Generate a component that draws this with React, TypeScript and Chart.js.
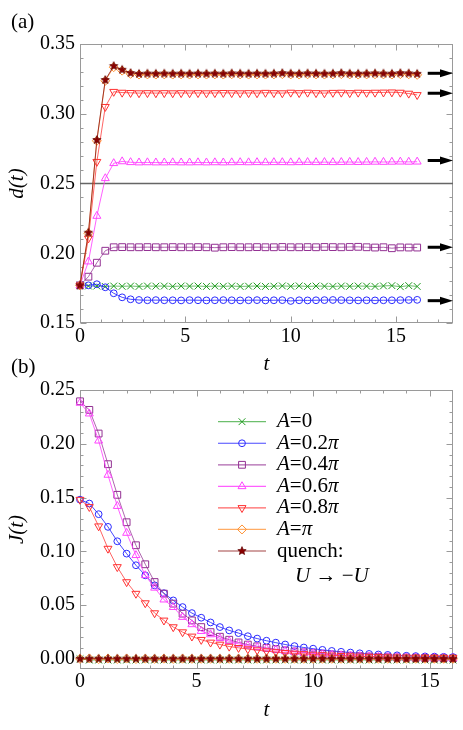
import React, { useEffect, useRef } from 'react';
import { Chart, registerables } from 'chart.js';
import { drawPoint } from 'chart.js/helpers';

Chart.register(...registerables);

const FONT = '"Liberation Serif", "Times New Roman", serif';

// time grid (both panels)
const T = [0, 0.4, 0.8, 1.2, 1.6, 2, 2.4, 2.8, 3.2, 3.6, 4, 4.4, 4.8, 5.2, 5.6, 6, 6.4, 6.8, 7.2, 7.6,
  8, 8.4, 8.8, 9.2, 9.6, 10, 10.4, 10.8, 11.2, 11.6, 12, 12.4, 12.8, 13.2, 13.6, 14, 14.4, 14.8, 15.2, 15.6, 16];

// ---------- panel (a): d(t) ----------
const dA0 = [0.177, 0.1765, 0.1765, 0.1762, 0.1765, 0.1763, 0.1765, 0.1762, 0.1765, 0.1764,
  0.1765, 0.1762, 0.1765, 0.1764, 0.1765, 0.1762, 0.1765, 0.1763, 0.1765, 0.1762,
  0.1764, 0.1765, 0.1762, 0.1764, 0.1766, 0.1763, 0.1766, 0.1762, 0.1765, 0.1764,
  0.1762, 0.1765, 0.1763, 0.1765, 0.1764, 0.1762, 0.1766, 0.1768, 0.176, 0.1768, 0.1762];
const dA02 = [0.177, 0.177, 0.1778, 0.1756, 0.1713, 0.1684, 0.167, 0.1665, 0.1663, 0.1664,
  0.1663, 0.1663, 0.1662, 0.1664, 0.1663, 0.1662, 0.1663, 0.1664, 0.1663, 0.1662,
  0.1663, 0.1664, 0.1662, 0.1663, 0.1664, 0.1658, 0.1663, 0.1662, 0.1663, 0.1664,
  0.1665, 0.1664, 0.1663, 0.1662, 0.1663, 0.1662, 0.1663, 0.1663, 0.1664, 0.1665, 0.1666];
const dA04 = [0.177, 0.1832, 0.1932, 0.2018, 0.2043, 0.2044, 0.2043, 0.2043, 0.2044, 0.2043,
  0.2043, 0.2044, 0.2043, 0.2043, 0.2044, 0.2043, 0.204, 0.2043, 0.2044, 0.2043,
  0.2043, 0.2044, 0.2043, 0.2043, 0.2045, 0.2043, 0.2043, 0.2044, 0.2043, 0.2045,
  0.2044, 0.2043, 0.2045, 0.2046, 0.2043, 0.2041, 0.2043, 0.2036, 0.2042, 0.2041, 0.2041];
const dA06 = [0.177, 0.194, 0.2267, 0.2537, 0.2645, 0.2658, 0.2652, 0.265, 0.2651, 0.265,
  0.265, 0.2651, 0.265, 0.265, 0.2651, 0.265, 0.2651, 0.265, 0.2651, 0.2652,
  0.2651, 0.2652, 0.2651, 0.2652, 0.2652, 0.2651, 0.2652, 0.2653, 0.2652, 0.2653,
  0.2652, 0.2653, 0.2654, 0.2653, 0.2654, 0.2655, 0.2654, 0.2655, 0.2656, 0.2655, 0.2656];
const dA08 = [0.177, 0.2107, 0.2656, 0.305, 0.3158, 0.3152, 0.315, 0.3148, 0.3149, 0.3148,
  0.3149, 0.3148, 0.3149, 0.3148, 0.3149, 0.3148, 0.3149, 0.315, 0.3149, 0.3148,
  0.3149, 0.3148, 0.3151, 0.3149, 0.3148, 0.3152, 0.3149, 0.3152, 0.3149, 0.3148,
  0.3151, 0.3152, 0.3149, 0.3152, 0.3151, 0.3152, 0.3153, 0.3154, 0.3152, 0.3145, 0.3135];
const dPi = [0.177, 0.2143, 0.2806, 0.3236, 0.3334, 0.3309, 0.3286, 0.3281, 0.3282, 0.3281,
  0.3282, 0.3281, 0.3282, 0.3281, 0.3282, 0.3281, 0.3282, 0.3281, 0.3283, 0.3282,
  0.3281, 0.3282, 0.3281, 0.3282, 0.3284, 0.3282, 0.3281, 0.3283, 0.3282, 0.3281,
  0.3282, 0.3284, 0.3282, 0.3281, 0.3282, 0.3283, 0.3282, 0.3281, 0.3284, 0.3283, 0.3279];
const dQ = [0.177, 0.2147, 0.2812, 0.3242, 0.3342, 0.3315, 0.3292, 0.3286, 0.3288, 0.3287,
  0.3288, 0.3287, 0.3288, 0.3287, 0.3288, 0.3287, 0.3288, 0.3287, 0.3289, 0.3288,
  0.3287, 0.3288, 0.3287, 0.3288, 0.3291, 0.3288, 0.3287, 0.3289, 0.3288, 0.3287,
  0.3288, 0.3291, 0.3288, 0.3287, 0.3288, 0.3289, 0.3288, 0.3287, 0.3291, 0.3289, 0.3286];
const halfFillingLevel = 0.25;
const arrowLevels = [0.329, 0.3147, 0.2665, 0.2043, 0.166];
const arrowFrom = 16.5;
const arrowTo = 17.7;

// ---------- panel (b): J(t) ----------
const jA0 = [0, -0.0012, -0.0012, -0.0012, -0.0012, -0.0012, -0.0012, -0.0012, -0.0012, -0.0012,
  -0.0012, -0.0012, -0.0012, -0.0012, -0.0012, -0.0012, -0.0012, -0.0012, -0.0012, -0.0012,
  -0.0012, -0.0012, -0.0012, -0.0012, -0.0012, -0.0012, -0.0012, -0.0012, -0.0012, -0.0012,
  -0.0012, -0.0012, -0.0012, -0.0012, -0.0012, -0.0012, -0.0012, -0.0012, -0.0012, -0.0012, -0.0012];
const jA02 = [0.148, 0.1444, 0.1345, 0.1227, 0.1093, 0.0978, 0.087, 0.0776, 0.0683, 0.061,
  0.0543, 0.0481, 0.0425, 0.0382, 0.0338, 0.0295, 0.0264, 0.0239, 0.021, 0.0188,
  0.0168, 0.015, 0.0133, 0.0118, 0.0105, 0.0094, 0.0083, 0.0073, 0.0065, 0.0058,
  0.0051, 0.0045, 0.004, 0.0036, 0.0032, 0.0028, 0.0025, 0.0022, 0.002, 0.0018, 0.0016];
const jA04 = [0.2395, 0.2315, 0.2095, 0.181, 0.1525, 0.127, 0.1056, 0.0879, 0.0714, 0.0606,
  0.0513, 0.042, 0.0357, 0.0295, 0.0248, 0.0205, 0.0177, 0.0152, 0.0132, 0.0116,
  0.0101, 0.0089, 0.0078, 0.0068, 0.006, 0.0052, 0.0045, 0.0039, 0.0034, 0.0029,
  0.0025, 0.0021, 0.0018, 0.0015, 0.0013, 0.0011, 0.0009, 0.0008, 0.0007, 0.0006, 0.0005];
const jA06 = [0.238, 0.228, 0.2028, 0.171, 0.142, 0.117, 0.0963, 0.0776, 0.066, 0.055,
  0.048, 0.0388, 0.032, 0.0257, 0.0226, 0.019, 0.0163, 0.014, 0.0122, 0.0107,
  0.0094, 0.0083, 0.0073, 0.0064, 0.0056, 0.0049, 0.0043, 0.0037, 0.0032, 0.0028,
  0.0024, 0.002, 0.0017, 0.0015, 0.0013, 0.0011, 0.0009, 0.0008, 0.0007, 0.0006, 0.0005];
const jA08 = [0.148, 0.1413, 0.1233, 0.1025, 0.0854, 0.0714, 0.0606, 0.0518, 0.0425, 0.0357,
  0.0295, 0.0248, 0.0208, 0.0177, 0.0152, 0.0133, 0.0114, 0.0102, 0.009, 0.008,
  0.0071, 0.0063, 0.0056, 0.005, 0.0045, 0.004, 0.0036, 0.0032, 0.0028, 0.0025,
  0.0022, 0.002, 0.0018, 0.0016, 0.0014, 0.0013, 0.0012, 0.0011, 0.001, 0.0009, 0.0008];
const jPi = [0, 0.0003, -0.0003, 0.0002, -0.0002, 0.0002, -0.0002, 0.0001, -0.0001, 0.0001,
  -0.0001, 0.0001, 0, 0, 0, 0, 0, 0, 0, 0,
  0, 0, 0, 0, 0, 0, 0, 0, 0, 0,
  0, 0, 0, 0, 0, 0, 0, 0, 0, 0, 0];
const jQ = [0, 0, 0, 0, 0, 0, 0, 0, 0, 0,
  0, 0, 0, 0, 0, 0, 0, 0, 0, 0,
  0, 0, 0, 0, 0, 0, 0, 0, 0, 0,
  0, 0, 0, 0, 0, 0, 0, 0, 0, 0, 0];

// ticks
const xTicksA = [0, 5, 10, 15];
const xMinorA = [1, 2, 3, 4, 6, 7, 8, 9, 11, 12, 13, 14, 16, 17];
const yTicksA = [0.15, 0.2, 0.25, 0.3, 0.35];
const yMinorA = [0.16, 0.17, 0.18, 0.19, 0.21, 0.22, 0.23, 0.24, 0.26, 0.27, 0.28, 0.29, 0.31, 0.32, 0.33, 0.34];
const xTicksB = [0, 5, 10, 15];
const xMinorB = [1, 2, 3, 4, 6, 7, 8, 9, 11, 12, 13, 14];
const yTicksB = [0, 0.05, 0.1, 0.15, 0.2, 0.25];
const yMinorB = [0.01, 0.02, 0.03, 0.04, 0.06, 0.07, 0.08, 0.09, 0.11, 0.12, 0.13, 0.14,
  0.16, 0.17, 0.18, 0.19, 0.21, 0.22, 0.23, 0.24];

// legend text: [text, italic?]
const legendLabels: [string, boolean][][] = [
  [['A', true], ['=0', false]],
  [['A', true], ['=0.2', false], ['π', true]],
  [['A', true], ['=0.4', false], ['π', true]],
  [['A', true], ['=0.6', false], ['π', true]],
  [['A', true], ['=0.8', false], ['π', true]],
  [['A', true], ['=', false], ['π', true]],
  [['quench:', false]],
];
const legendExtra: [string, boolean][] = [['U', true], [' → ', false], ['−', false], ['U', true]];

const FRAME = '#9a9a9a';

type Sty = { color: string; line: string; style: any; radius: number; rotation: number };

function makeStar(fill: string, stroke: string, r: number) {
  const c = document.createElement('canvas');
  const s = Math.ceil(r * 2 + 3);
  c.width = s;
  c.height = s;
  const g = c.getContext('2d')!;
  g.beginPath();
  for (let i = 0; i < 10; i++) {
    const ang = -Math.PI / 2 + (i * Math.PI) / 5;
    const rr = i % 2 === 0 ? r : r * 0.45;
    g.lineTo(s / 2 + rr * Math.cos(ang), s / 2 + rr * Math.sin(ang));
  }
  g.closePath();
  g.fillStyle = fill;
  g.fill();
  g.strokeStyle = stroke;
  g.lineWidth = 0.7;
  g.stroke();
  return c;
}

function styles(): Sty[] {
  const star = makeStar('#8b0000', '#600000', 4.4);
  return [
    { color: '#1f9a1f', line: 'rgba(60,170,60,0.75)', style: 'crossRot', radius: 4.8, rotation: 0 },
    { color: '#2a2aff', line: 'rgba(40,40,255,0.85)', style: 'circle', radius: 3.4, rotation: 0 },
    { color: '#933193', line: 'rgba(147,49,147,0.75)', style: 'rect', radius: 4.8, rotation: 0 },
    { color: '#ff44ff', line: 'rgba(255,68,255,0.85)', style: 'triangle', radius: 4.6, rotation: 0 },
    { color: '#ff3030', line: 'rgba(255,48,48,0.75)', style: 'triangle', radius: 4.6, rotation: 180 },
    { color: '#ff9030', line: 'rgba(255,144,48,0.75)', style: 'rectRot', radius: 4.5, rotation: 0 },
    { color: '#7a0000', line: 'rgba(140,20,20,0.8)', style: star, radius: 4.4, rotation: 0 },
  ];
}

function ds(ys: number[], s: Sty, order: number) {
  return {
    data: T.map((t, i) => ({ x: t, y: ys[i] })),
    borderColor: s.line,
    borderWidth: 1,
    pointStyle: s.style,
    pointRadius: s.radius,
    pointRotation: s.rotation,
    pointBorderColor: s.color,
    pointBackgroundColor: 'rgba(255,255,255,0)',
    pointBorderWidth: 1,
    tension: 0,
    fill: false,
    clip: false as any,
    order,
  };
}

function framePlugin(xMaj: number[], xMin: number[], yMaj: number[], yMin: number[]) {
  return {
    id: 'frameTicks',
    beforeDatasetsDraw(chart: any) {
      const { ctx, chartArea: a, scales } = chart;
      const xs = scales.x, ys = scales.y;
      const L = Math.round(a.left) + 0.5, R = Math.round(a.right) - 0.5;
      const Tp = Math.round(a.top) + 0.5, B = Math.round(a.bottom) - 0.5;
      ctx.save();
      ctx.strokeStyle = FRAME;
      ctx.lineWidth = 1;
      ctx.strokeRect(L, Tp, R - L, B - Tp);
      ctx.beginPath();
      const xt = (vals: number[], len: number) => vals.forEach((v) => {
        const px = Math.round(xs.getPixelForValue(v)) + 0.5;
        ctx.moveTo(px, B); ctx.lineTo(px, B - len);
        ctx.moveTo(px, Tp); ctx.lineTo(px, Tp + len);
      });
      const yt = (vals: number[], len: number) => vals.forEach((v) => {
        const py = Math.round(ys.getPixelForValue(v)) + 0.5;
        ctx.moveTo(L, py); ctx.lineTo(L + len, py);
        ctx.moveTo(R, py); ctx.lineTo(R - len, py);
      });
      xt(xMaj, 6); xt(xMin, 3); yt(yMaj, 6); yt(yMin, 3);
      ctx.stroke();
      ctx.restore();
    },
  };
}

function panelLabel(text: string, x: number, y: number) {
  return {
    id: 'panelLabel',
    afterDraw(chart: any) {
      const ctx = chart.ctx;
      ctx.save();
      ctx.fillStyle = '#000';
      ctx.font = `21px ${FONT}`;
      ctx.textBaseline = 'alphabetic';
      ctx.fillText(text, x, y);
      ctx.restore();
    },
  };
}

const arrowPlugin = {
  id: 'arrows',
  afterDatasetsDraw(chart: any) {
    const { ctx, scales } = chart;
    const x0 = scales.x.getPixelForValue(arrowFrom);
    const x1 = scales.x.getPixelForValue(arrowTo);
    ctx.save();
    ctx.fillStyle = '#000';
    ctx.strokeStyle = '#000';
    arrowLevels.forEach((v) => {
      const y = scales.y.getPixelForValue(v);
      ctx.lineWidth = 3;
      ctx.beginPath();
      ctx.moveTo(x0, y);
      ctx.lineTo(x1 - 10, y);
      ctx.stroke();
      ctx.beginPath();
      ctx.moveTo(x1, y);
      ctx.lineTo(x1 - 13, y - 4);
      ctx.lineTo(x1 - 13, y + 4);
      ctx.closePath();
      ctx.fill();
    });
    ctx.restore();
  },
};

function drawParts(ctx: CanvasRenderingContext2D, parts: [string, boolean][], x: number, y: number, size: number) {
  let cx = x;
  parts.forEach(([t, it]) => {
    ctx.font = `${it ? 'italic ' : ''}${size}px ${FONT}`;
    ctx.fillText(t, cx, y);
    cx += ctx.measureText(t).width;
  });
}

const legendPlugin = {
  id: 'customLegend',
  afterDraw(chart: any) {
    const ctx: CanvasRenderingContext2D = chart.ctx;
    const dsets = chart.data.datasets;
    const y0 = 81.7, dy = 21.55;
    ctx.save();
    ctx.textBaseline = 'middle';
    ctx.fillStyle = '#000';
    legendLabels.forEach((parts, i) => {
      const d = dsets[i];
      const y = y0 + i * dy;
      ctx.strokeStyle = d.borderColor;
      ctx.lineWidth = 1.2;
      ctx.beginPath();
      ctx.moveTo(218, y);
      ctx.lineTo(266, y);
      ctx.stroke();
      ctx.strokeStyle = d.pointBorderColor;
      ctx.fillStyle = 'rgba(255,255,255,0)';
      ctx.lineWidth = 1;
      drawPoint(ctx, { pointStyle: d.pointStyle, rotation: d.pointRotation, radius: d.pointRadius, borderWidth: 1 } as any, 242, y);
      ctx.fillStyle = '#000';
      drawParts(ctx, parts, 277, y, 21);
    });
    drawParts(ctx, legendExtra, 295, y0 + 6 * dy + 25.5, 21);
    ctx.restore();
  },
};

function options(p: any) {
  return {
    responsive: false,
    animation: false,
    devicePixelRatio: 1,
    events: [],
    layout: { padding: { top: p.padTop, right: 10, left: 0, bottom: 0 } },
    plugins: { legend: { display: false }, tooltip: { enabled: false } },
    scales: {
      x: {
        type: 'linear',
        min: p.xMin,
        max: p.xMax,
        afterFit: (s: any) => { s.height = 54; },
        afterBuildTicks: (s: any) => { s.ticks = p.xTicks.map((v: number) => ({ value: v })); },
        grid: { display: false, drawTicks: false },
        border: { display: false },
        ticks: {
          color: '#000', font: { family: FONT, size: 20 }, padding: p.xPad,
          maxRotation: 0, autoSkip: false, callback: (v: any) => String(v),
        },
        title: { display: true, text: 't', color: '#000', font: { family: FONT, size: 21, style: 'italic' }, padding: 0 },
      },
      y: {
        type: 'linear',
        min: p.yMin,
        max: p.yMax,
        afterFit: (s: any) => { s.width = 80; },
        afterBuildTicks: (s: any) => { s.ticks = p.yTicks.map((v: number) => ({ value: v })); },
        grid: { display: false, drawTicks: false },
        border: { display: false },
        ticks: {
          color: '#000', font: { family: FONT, size: 20 }, padding: 5,
          autoSkip: false, callback: (v: any) => Number(v).toFixed(2),
        },
        title: {
          display: true, text: p.yTitle, color: '#000',
          font: { family: FONT, size: 21, style: 'italic' }, padding: { top: 5, bottom: 0 },
        },
      },
    },
  };
}

export default function App() {
  const refA = useRef<HTMLCanvasElement>(null);
  const refB = useRef<HTMLCanvasElement>(null);

  useEffect(() => {
    const S = styles();
    const seriesA = [dA0, dA02, dA04, dA06, dA08, dPi, dQ];
    const seriesB = [jA0, jA02, jA04, jA06, jA08, jPi, jQ];

    const dsA: any[] = seriesA.map((ys, i) => ds(ys, S[i], 6 - i));
    dsA.push({
      data: [{ x: 0, y: halfFillingLevel }, { x: arrowTo, y: halfFillingLevel }],
      borderColor: '#666', borderWidth: 1.5, pointRadius: 0, order: 20, clip: false,
    });
    const dsB: any[] = seriesB.map((ys, i) => ds(ys, S[i], 6 - i));

    const chartA = new Chart(refA.current!, {
      type: 'line',
      data: { datasets: dsA },
      options: options({ padTop: 44, xMin: 0, xMax: 17.7, xTicks: xTicksA, xPad: 2, yMin: 0.15, yMax: 0.35, yTicks: yTicksA, yTitle: 'd(t)' }) as any,
      plugins: [framePlugin(xTicksA, xMinorA, yTicksA, yMinorA), arrowPlugin, panelLabel('(a)', 11, 28)],
    });
    const chartB = new Chart(refB.current!, {
      type: 'line',
      data: { datasets: dsB },
      options: options({ padTop: 50, xMin: 0, xMax: 16, xTicks: xTicksB, xPad: 1, yMin: -0.0095, yMax: 0.25, yTicks: yTicksB, yTitle: 'J(t)' }) as any,
      plugins: [framePlugin(xTicksB, xMinorB, yTicksB, yMinorB), legendPlugin, panelLabel('(b)', 11, 33)],
    });
    return () => {
      chartA.destroy();
      chartB.destroy();
    };
  }, []);

  return (
    <div style={{ position: 'absolute', left: 0, top: 0, width: 463, height: 730, background: '#fff', overflow: 'hidden' }}>
      <canvas ref={refA} width={463} height={377} style={{ position: 'absolute', left: 0, top: 0, display: 'block' }} />
      <canvas ref={refB} width={463} height={383} style={{ position: 'absolute', left: 0, top: 340, display: 'block' }} />
    </div>
  );
}
